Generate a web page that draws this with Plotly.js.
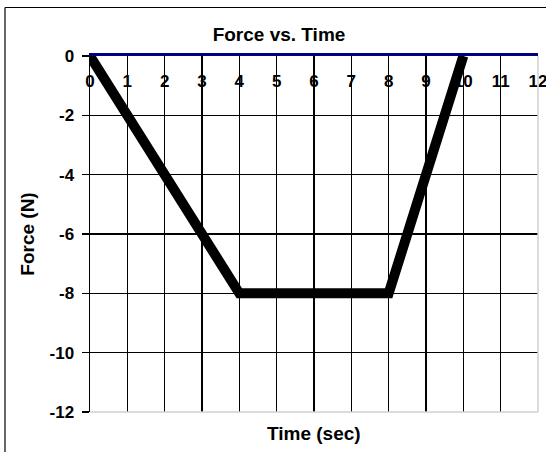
<!DOCTYPE html>
<html>
<head>
<meta charset="utf-8">
<script src="https://cdn.plot.ly/plotly-3.0.1.min.js"></script>
<style>html,body{margin:0;padding:0;background:#fff;}#chart{width:546px;height:452px;}</style>
</head>
<body>
<div id="chart"></div>
<script>
const timeSec = [0, 4, 8, 10];
const forceN = [0, -8, -8, 0];
const xTicks = [0,1,2,3,4,5,6,7,8,9,10,11,12];
const yTicks = [0,-2,-4,-6,-8,-10,-12];

const FONT = 'Arial, "Liberation Sans", sans-serif';

const trace = {
  x: timeSec, y: forceN, type: 'scatter', mode: 'lines',
  line: {color: '#000000', width: 10},
  hoverinfo: 'skip', showlegend: false
};
// invisible helper trace so the label axis exists
const labelTrace = {
  x: [0, 12], y: [0, 0], xaxis: 'x2', yaxis: 'y', type: 'scatter', mode: 'none',
  hoverinfo: 'skip', showlegend: false
};

const layout = {
  width: 546, height: 452,
  margin: {l: 90, r: 8, t: 56, b: 40},
  paper_bgcolor: '#ffffff', plot_bgcolor: '#ffffff',
  showlegend: false,
  title: {text: 'Force vs. Time', font: {family: FONT, size: 19, weight: 'bold', color: '#000'},
          x: 279/546, xanchor: 'center', y: 1 - 34/452, yanchor: 'middle'},
  xaxis: {
    range: [0, 12], side: 'top', tickvals: xTicks, showticklabels: false, ticks: '',
    showgrid: true, gridcolor: '#000000', gridwidth: 1.5,
    showline: true, linecolor: '#000080', linewidth: 3,
    zeroline: false, fixedrange: true
  },
  xaxis2: {
    range: [0, 12], overlaying: 'x', anchor: 'free', position: 1, side: 'bottom',
    tickvals: xTicks, ticktext: xTicks.map(String), ticks: '',
    ticklabelstandoff: 13, ticklabeloverflow: 'allow',
    tickfont: {family: FONT, size: 17, weight: 'bold', color: '#000'},
    showgrid: false, showline: false, zeroline: false, fixedrange: true
  },
  yaxis: {
    range: [-12, 0], tickvals: yTicks, ticktext: yTicks.map(String),
    ticks: 'outside', ticklen: 7, tickcolor: '#000', tickwidth: 1.5,
    ticklabelstandoff: 4,
    tickfont: {family: FONT, size: 17, weight: 'bold', color: '#000'},
    showgrid: true, gridcolor: '#000000', gridwidth: 1.5,
    showline: true, linecolor: '#000000', linewidth: 1.5,
    zeroline: false, fixedrange: true,
    title: {text: 'Force (N)', font: {family: FONT, size: 19, weight: 'bold', color: '#000'}, standoff: 10}
  },
  annotations: [
    {text: 'Time (sec)', xref: 'paper', yref: 'paper', x: 0.5, y: -21/356, xanchor: 'center', yanchor: 'middle',
     showarrow: false, font: {family: FONT, size: 19, weight: 'bold', color: '#000'}}
  ],
  shapes: [
    {type: 'line', xref: 'paper', yref: 'paper', x0: 0, x1: 1, y0: 0, y1: 0, line: {color: '#d0d0d0', width: 1.5}},
    {type: 'line', xref: 'paper', yref: 'paper', x0: 1, x1: 1, y0: 0, y1: 1, line: {color: '#d0d0d0', width: 1.5}},
    {type: 'line', xref: 'paper', yref: 'paper', x0: -85/448, x1: 1.05, y0: (412-7.5)/356, y1: (412-7.5)/356, line: {color: '#000', width: 1.2}},
    {type: 'line', xref: 'paper', yref: 'paper', x0: -85/448, x1: -85/448, y0: -0.2, y1: (412-7.5)/356, line: {color: '#000', width: 1.2}}
  ]
};

Plotly.newPlot('chart', [trace, labelTrace], layout, {displayModeBar: false, staticPlot: true});
</script>
</body>
</html>
